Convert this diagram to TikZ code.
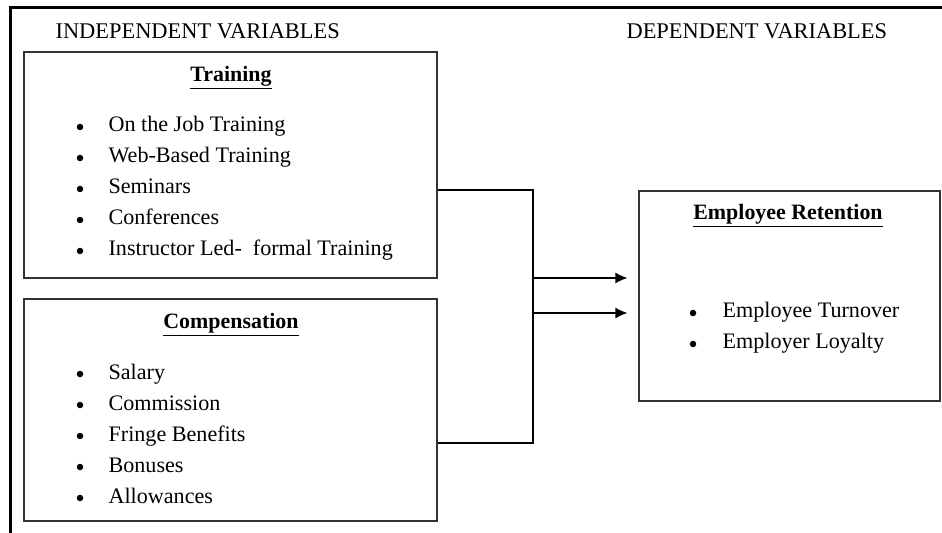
\documentclass[tikz,border=0pt]{standalone}
\usepackage{fontspec}
\setmainfont{Liberation Serif}
\usetikzlibrary{arrows.meta}
\tikzset{
  varbox/.style={draw=black!80, line width=1.2bp, rectangle, inner sep=0pt},
  boxtitle/.style={font=\fontsize{22}{26}\selectfont\bfseries, anchor=base, inner sep=0pt},
  itemtext/.style={font=\fontsize{22.2}{26}\selectfont, anchor=base west, inner sep=0pt},
  bullet/.style={circle, fill=black, inner sep=0pt, minimum size=6.5bp},
  heading/.style={font=\fontsize{22.5}{26}\selectfont, anchor=base west, inner sep=0pt},
  feed/.style={-{Latex[length=12bp,width=11bp]}, shorten >=11bp},
}
\begin{document}
\begin{tikzpicture}[x=1bp,y=-1bp,line join=miter]
  \useasboundingbox (0,0) rectangle (942,533);
  \pgfsetlinewidth{1.2bp}
%%
  % Frame
  \draw [line width=3bp] (10,533) -- (10,8) -- (942,8);
  % Headings
  \node [heading] (indep) at (55,39) {INDEPENDENT VARIABLES};
  \node [heading] (dep) at (626,39) {DEPENDENT VARIABLES};
  % Node: training
  \node [varbox, minimum width=413bp, minimum height=226bp] (training) at (230.5,165) {};
  \node [boxtitle] (trainingtitle) at (231,82) {\underline{Training}};
  \node [bullet] (tb1) at (80,127) {};
  \node [itemtext] (ti1) at (108,132) {On the Job Training};
  \node [bullet] (tb2) at (80,158) {};
  \node [itemtext] (ti2) at (108,163) {Web-Based Training};
  \node [bullet] (tb3) at (80,189) {};
  \node [itemtext] (ti3) at (108,194) {Seminars};
  \node [bullet] (tb4) at (80,220) {};
  \node [itemtext] (ti4) at (108,225) {Conferences};
  \node [bullet] (tb5) at (80,251) {};
  \node [itemtext] (ti5) at (108,256) {Instructor Led-\ \ formal Training};
  % Node: compensation
  \node [varbox, minimum width=413bp, minimum height=222bp] (compensation) at (230.5,410) {};
  \node [boxtitle] (comptitle) at (231,329) {\underline{Compensation}};
  \node [bullet] (cb1) at (80,374) {};
  \node [itemtext] (ci1) at (108,379) {Salary};
  \node [bullet] (cb2) at (80,405) {};
  \node [itemtext] (ci2) at (108,410) {Commission};
  \node [bullet] (cb3) at (80,436) {};
  \node [itemtext] (ci3) at (108,441) {Fringe Benefits};
  \node [bullet] (cb4) at (80,467) {};
  \node [itemtext] (ci4) at (108,472) {Bonuses};
  \node [bullet] (cb5) at (80,498) {};
  \node [itemtext] (ci5) at (108,503) {Allowances};
  % Node: retention
  \node [varbox, minimum width=301bp, minimum height=210bp] (retention) at (789.5,296) {};
  \node [boxtitle] (rettitle) at (788,220) {\underline{Employee Retention}};
  \node [bullet] (rb1) at (693,313) {};
  \node [itemtext] (ri1) at (722,318) {Employee Turnover};
  \node [bullet] (rb2) at (693,344) {};
  \node [itemtext] (ri2) at (722,349) {Employer Loyalty};
  % Edge: training, compensation -> retention
  \coordinate (jtop) at (533,190);
  \coordinate (jbot) at (533,443);
  \coordinate (jarra) at (533,278);
  \coordinate (jarrb) at (533,313);
  \draw (training.east |- jtop) -- (jtop) -- (jbot) -- (compensation.east |- jbot);
  \draw [feed] (jarra) -- (retention.west |- jarra);
  \draw [feed] (jarrb) -- (retention.west |- jarrb);
%
\end{tikzpicture}
\end{document}
